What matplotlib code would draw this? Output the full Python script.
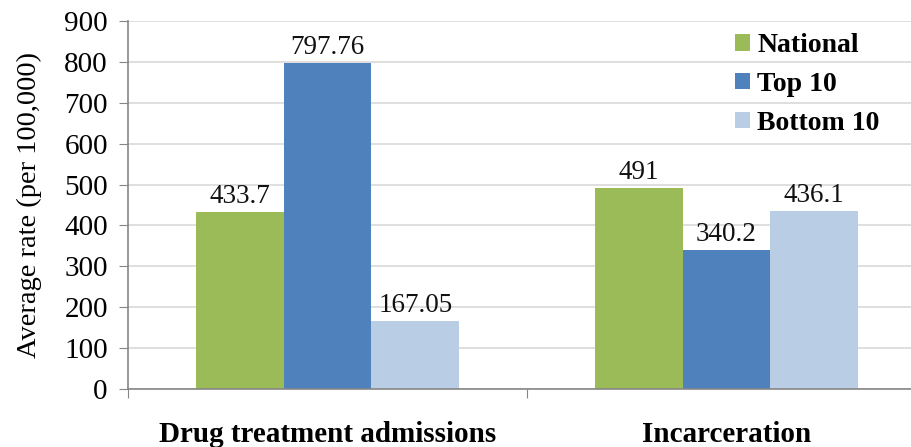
import numpy as np
import matplotlib.pyplot as plt

categories = ["Drug treatment admissions", "Incarceration"]
series_names = ["National", "Top 10", "Bottom 10"]
national = [433.7, 491]
top10 = [797.76, 340.2]
bottom10 = [167.05, 436.1]
value_labels = [["433.7", "491"], ["797.76", "340.2"], ["167.05", "436.1"]]

colors = ["#9BBB59", "#4F81BD", "#B9CDE5"]
axis_gray = "#868686"

plt.rcParams["font.family"] = ["Liberation Serif", "DejaVu Serif"]

fig = plt.figure(figsize=(9.11, 4.47), dpi=100)
ax = fig.add_axes([128 / 911, 1 - 389 / 447, 798 / 911, 368 / 447])

x = np.arange(len(categories))
width = 0.22
for i, (vals, name, color) in enumerate(zip([national, top10, bottom10], series_names, colors)):
    pos = x + (i - 1) * width
    bars = ax.bar(pos, vals, width, color=color, label=name, zorder=2)
    for b, txt in zip(bars, value_labels[i]):
        ax.annotate(txt, (b.get_x() + b.get_width() / 2, b.get_height()),
                    xytext=(0, 2), textcoords="offset points",
                    ha="center", va="bottom", fontsize=19.5, color="#111111")

ax.set_xlim(-0.5, 1.5)
ax.set_ylim(0, 900)
ax.set_yticks(np.arange(0, 901, 100))
ax.tick_params(axis="y", labelsize=21, length=6.5, color=axis_gray, pad=8)
ax.yaxis.grid(True, color="#D9D9D9", linewidth=1.2, zorder=0)
ax.set_axisbelow(True)

# boundary ticks between categories, labels centred on each group
ax.set_xticks([-0.5, 0.5, 1.5])
ax.set_xticklabels([])
ax.set_xticks(x, minor=True)
ax.set_xticklabels(categories, minor=True, fontsize=21, fontweight="bold")
ax.tick_params(axis="x", which="major", length=6.5, color=axis_gray)
ax.tick_params(axis="x", which="minor", length=0, pad=23)

for side in ("top", "right"):
    ax.spines[side].set_visible(False)
for side in ("left", "bottom"):
    ax.spines[side].set_color(axis_gray)
    ax.spines[side].set_linewidth(1.2)

ax.set_ylabel("Average rate (per 100,000)", fontsize=20.5, labelpad=16)

ax.legend(loc="upper left", frameon=False, prop={"size": 20, "weight": "bold"},
          handlelength=0.55, handleheight=0.55, handletextpad=0.25, labelspacing=0.5,
          borderaxespad=0, borderpad=0)
ax.get_legend().set_bbox_to_anchor((735 / 911, 1 - 33 / 447), transform=fig.transFigure)

fig.savefig("out.png", dpi=100)
